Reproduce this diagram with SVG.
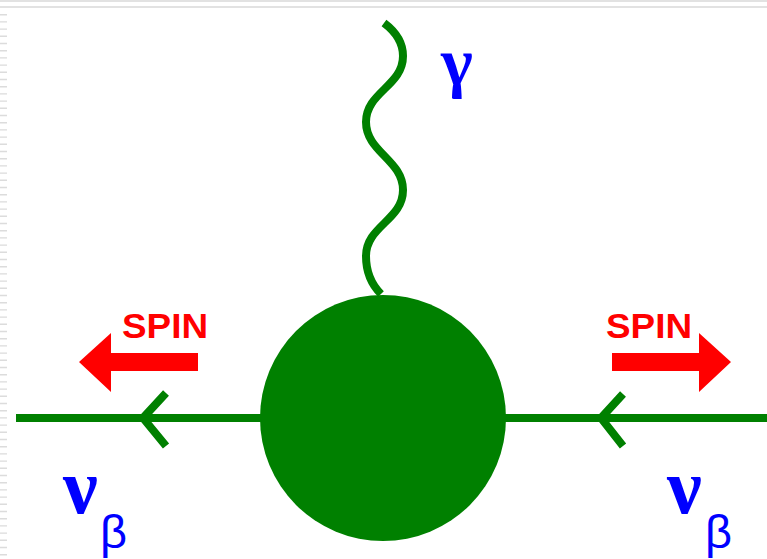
<svg xmlns="http://www.w3.org/2000/svg" width="767" height="559" viewBox="0 0 767 559">
<style>
.fline{stroke:#008000;stroke-width:8;fill:none}
.spin{fill:#ff0000;font-family:"Liberation Sans",Arial,sans-serif;font-weight:bold;font-size:35px}
.sym{fill:#0000ff;font-family:"Liberation Serif","DejaVu Serif",serif}
.sub{fill:#0000ff;font-family:"Liberation Sans",Arial,sans-serif;font-size:47px}
</style>
<rect width="767" height="559" fill="#ffffff"/>
<g id="frame">
<line x1="0" y1="1" x2="767" y2="1" stroke="#e2e2e2" stroke-width="2"/>
<line x1="0" y1="7" x2="767" y2="7" stroke="#e2e2e2" stroke-width="2"/>
<line x1="3.5" y1="14" x2="3.5" y2="559" stroke="#dcdcdc" stroke-width="7" stroke-dasharray="1.4 5.8"/>
</g>
<g id="connectors">
<line class="fline" x1="16" y1="418" x2="300" y2="418"/>
<line class="fline" x1="470" y1="418" x2="767" y2="418"/>
<polyline class="fline" points="166,393 143,418 166,446"/>
<polyline class="fline" points="623,394 601,418 623,446"/>
<path class="fline" d="M384 23 C396 32 403 43 403 56 C403 86 366 92 366 122 C366 152 403 160 403 190 C403 220 366 226 366 256 C366 272 372 285 381 294"/>
</g>
<g id="blob">
<circle cx="383" cy="418" r="123" fill="#008000"/>
</g>
<g id="spin-left">
<polygon fill="#ff0000" points="198,353 111,353 111,333 79,362 111,392 111,371 198,371"/>
<text class="spin" x="122" y="338" textLength="86" lengthAdjust="spacingAndGlyphs">SPIN</text>
</g>
<g id="spin-right">
<polygon fill="#ff0000" points="612,353 699,353 699,333 731,362 699,392 699,371 612,371"/>
<text class="spin" x="606" y="338" textLength="86" lengthAdjust="spacingAndGlyphs">SPIN</text>
</g>
<g id="gamma">
<text class="sym" x="441" y="85" font-size="68" font-weight="bold">γ</text>
</g>
<g id="nu-left">
<text class="sym" x="63" y="513" font-size="78" font-weight="bold">ν</text>
<text class="sub" x="100" y="548">β</text>
</g>
<g id="nu-right">
<text class="sym" x="667" y="513" font-size="78" font-weight="bold">ν</text>
<text class="sub" x="705" y="548">β</text>
</g>
</svg>
